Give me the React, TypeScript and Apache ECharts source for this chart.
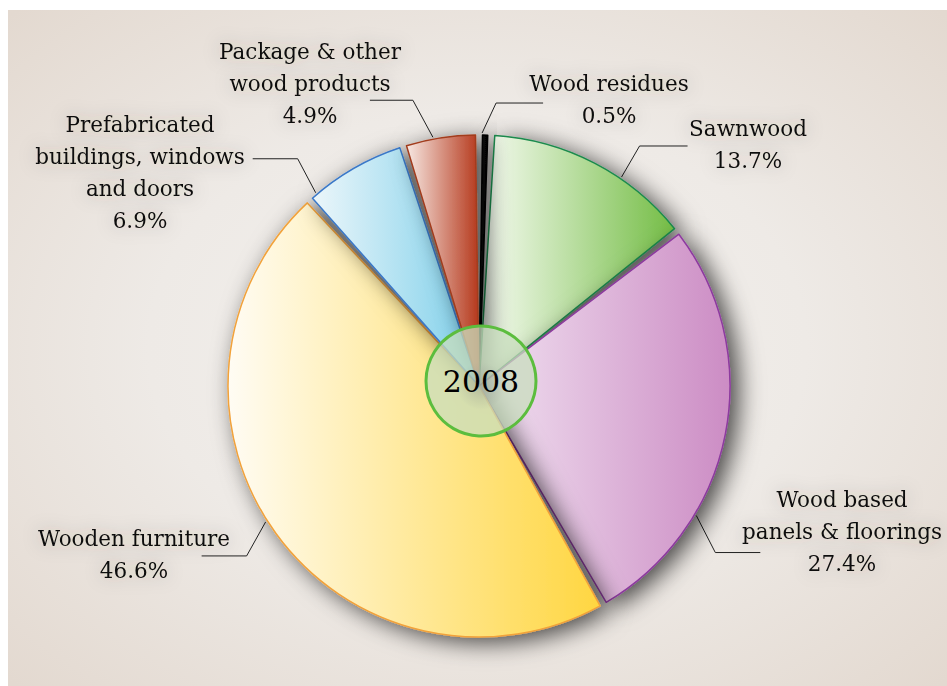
import React, { useEffect, useRef } from "react";
import * as echarts from "echarts";

// ---- data ----
const categories = [
  "Wood residues",
  "Sawnwood",
  "Wood based\npanels & floorings",
  "Wooden furniture",
  "Prefabricated\nbuildings, windows\nand doors",
  "Package & other\nwood products",
];
const shares = [0.5, 13.7, 27.4, 46.6, 6.9, 4.9];
const yearLabel = "2008";

// ---- styles ----
const SERIF = "DejaVu Serif";
const fillFrom = ["#1a1a1a", "#f9fcf5", "#f1e2f1", "#fffcf4", "#ecf6fa", "#f7e8e2"];
const fillTo = ["#000000", "#74bd45", "#cc8cc4", "#ffd640", "#7ccfea", "#b5381c"];
const borderColors = ["#000000", "#1b8a4d", "#8d3a9f", "#f2a23a", "#3a78c8", "#a23c1e"];

// ---- layout ----
const CX = 479;
const CY = 386;
const R = 251;
const leaderAngles = [0.7, 34.3, 120.8, 237.5, 319.8, 349.5];
const leaderElbows = [
  [14, -30],
  [18, -31],
  [19, 37],
  [-19, 34],
  [-18, -34],
  [-20, -37],
];
const leaderRuns = [47, 48, 45, -45, -45, -43];
const labelCenters = [
  [609, 99],
  [748, 144],
  [842, 531],
  [134, 554],
  [140, 172],
  [310, 83],
];

export default function App() {
  const ref = useRef<HTMLDivElement>(null);

  useEffect(() => {
    if (!ref.current) return;
    const chart = echarts.init(ref.current, undefined, { renderer: "svg" });

    const data = categories.map((name, i) => ({
      name,
      value: shares[i],
      itemStyle: {
        color: new echarts.graphic.LinearGradient(0, 0, 1, 0, [
          { offset: 0, color: fillFrom[i] },
          { offset: 1, color: fillTo[i] },
        ]),
        borderColor: borderColors[i],
      },
    }));

    chart.setOption({
      animation: false,
      graphic: {
        elements: [
          {
            type: "rect",
            z: -100,
            silent: true,
            shape: { x: 8, y: 10, width: 939, height: 676 },
            style: {
              fill: new echarts.graphic.RadialGradient(0.5, 0.5, 0.7, [
                { offset: 0, color: "#f3f1ee" },
                { offset: 0.5, color: "#eeeae6" },
                { offset: 1, color: "#e3d9d0" },
              ]),
            },
          },
          {
            type: "circle",
            z: 100,
            silent: true,
            shape: { cx: 481, cy: 381, r: 55 },
            style: {
              fill: "rgba(200,222,190,0.75)",
              stroke: "#5cbd3e",
              lineWidth: 3,
            },
          },
          {
            type: "circle",
            z: 101,
            silent: true,
            shape: { cx: 481, cy: 386, r: 24 },
            style: {
              fill: new echarts.graphic.RadialGradient(0.5, 0.5, 0.5, [
                { offset: 0, color: "rgba(140,140,140,0.35)" },
                { offset: 1, color: "rgba(140,140,140,0)" },
              ]),
            },
          },
          {
            type: "text",
            z: 102,
            silent: true,
            x: 481,
            y: 381,
            style: {
              text: yearLabel,
              fill: "#000",
              fontSize: 30,
              fontFamily: SERIF,
              align: "center",
              verticalAlign: "middle",
            },
          },
        ],
      },
      series: [
        {
          type: "pie",
          center: [CX, CY],
          radius: [0, R],
          startAngle: 90,
          clockwise: true,
          padAngle: 1.6,
          minAngle: 1.2,
          avoidLabelOverlap: false,
          itemStyle: {
            borderWidth: 1.5,
            shadowBlur: 24,
            shadowOffsetX: 8,
            shadowOffsetY: 5,
            shadowColor: "rgba(0,0,0,0.7)",
          },
          label: {
            show: true,
            position: "outside",
            formatter: (p: any) => `${p.name}\n${shares[p.dataIndex].toFixed(1)}%`,
            fontFamily: SERIF,
            fontSize: 21.5,
            lineHeight: 32,
            color: "#111",
            textShadowColor: "rgba(70,60,50,0.3)",
            textShadowBlur: 18,
          },
          labelLine: {
            show: true,
            lineStyle: { color: "#222", width: 1 },
          },
          labelLayout: (params: any) => {
            const i = params.dataIndex;
            const a = (leaderAngles[i] * Math.PI) / 180;
            const p0 = [CX + (R + 2) * Math.sin(a), CY - (R + 2) * Math.cos(a)];
            const p1 = [p0[0] + leaderElbows[i][0], p0[1] + leaderElbows[i][1]];
            const p2 = [p1[0] + leaderRuns[i], p1[1]];
            return {
              x: labelCenters[i][0],
              y: labelCenters[i][1],
              align: "center",
              verticalAlign: "middle",
              labelLinePoints: [p0, p1, p2],
            };
          },
          emphasis: { disabled: true },
          data,
        },
      ],
    });

    return () => chart.dispose();
  }, []);

  return (
    <div
      ref={ref}
      style={{ position: "absolute", left: 0, top: 0, width: 947, height: 686 }}
    />
  );
}
